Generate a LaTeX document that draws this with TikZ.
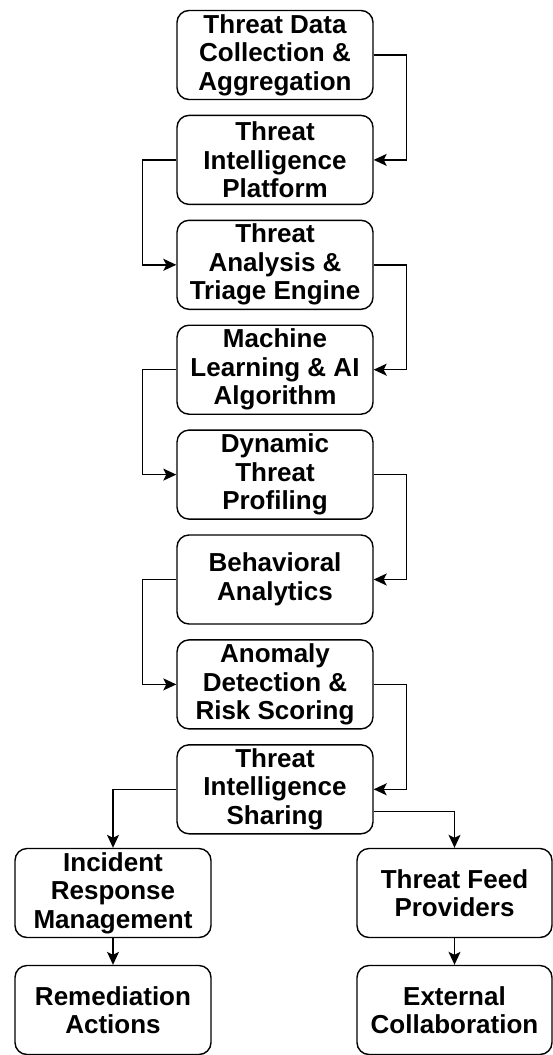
\documentclass[tikz,border=0pt]{standalone}
\usepackage{fontspec}
\setmainfont{Liberation Sans}
\usetikzlibrary{arrows.meta}
\begin{document}
\begin{tikzpicture}[x=1pt,y=-1pt,>={Stealth[length=13pt,width=12pt,inset=3pt]},
  block/.style={draw,line width=1.4pt,rounded corners=12pt,minimum width=196pt,minimum height=89pt,inner sep=0pt,align=center,font=\fontsize{26}{28.5}\selectfont\bfseries},
  link/.style={->,line width=1.4pt}]
\useasboundingbox (0,0) rectangle (553,1055);
\node[block] (data) at (275,55) {Threat Data\\Collection \&\\Aggregation};
\node[block] (tip) at (275,159.9) {Threat\\Intelligence\\Platform};
\node[block] (analysis) at (275,264.8) {Threat\\Analysis \&\\Triage Engine};
\node[block] (ml) at (275,369.7) {Machine\\Learning \& AI\\Algorithm};
\node[block] (profiling) at (275,474.6) {Dynamic\\Threat\\Profiling};
\node[block] (behavior) at (275,579.5) {Behavioral\\Analytics};
\node[block] (anomaly) at (275,684.4) {Anomaly\\Detection \&\\Risk Scoring};
\node[block] (sharing) at (275,789.3) {Threat\\Intelligence\\Sharing};
\node[block] (incident) at (113,893) {Incident\\Response\\Management};
\node[block] (remedy) at (113,1010) {Remediation\\Actions};
\node[block,minimum width=195pt] (feeds) at (454.5,893) {Threat Feed\\Providers};
\node[block,minimum width=195pt] (collab) at (454.5,1010) {External\\Collaboration};
\draw[link](data.east)--++(33,0)|-(tip.east);
\draw[link](tip.west)--++(-34,0)|-(analysis.west);
\draw[link](analysis.east)--++(33,0)|-(ml.east);
\draw[link](ml.west)--++(-34,0)|-(profiling.west);
\draw[link](profiling.east)--++(33,0)|-(behavior.east);
\draw[link](behavior.west)--++(-34,0)|-(anomaly.west);
\draw[link](anomaly.east)--++(33,0)|-(sharing.east);
\draw[link](sharing.west)-|(incident.north);
\draw[link]([yshift=-22pt]sharing.east)-|(feeds.north);
\draw[link](incident)--(remedy);
\draw[link](feeds)--(collab);
\end{tikzpicture}
\end{document}
